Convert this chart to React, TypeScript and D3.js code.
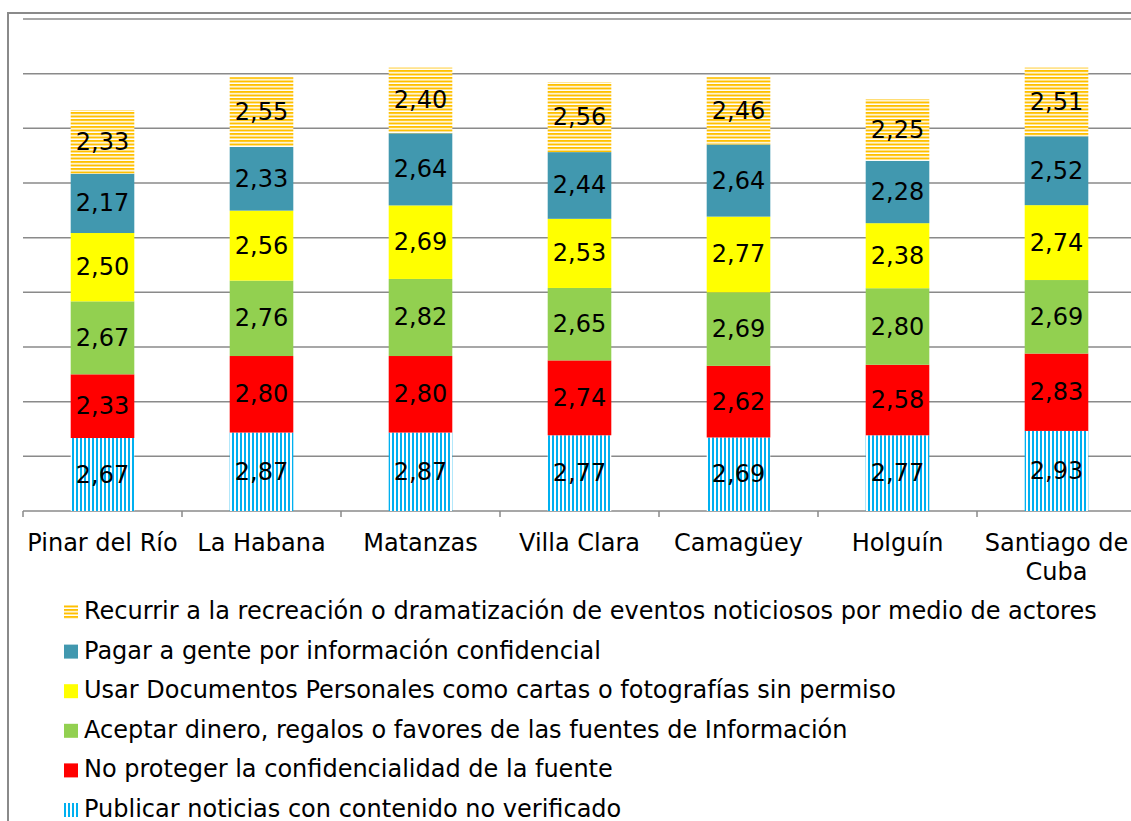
import React from 'react';
import * as d3 from 'd3';

const categories = ['Pinar del Río', 'La Habana', 'Matanzas', 'Villa Clara', 'Camagüey', 'Holguín', 'Santiago de Cuba'];

// bottom to top
const seriesNames = [
  'Publicar noticias con contenido no verificado',
  'No proteger la confidencialidad de la fuente',
  'Aceptar dinero, regalos o favores de las fuentes de Información',
  'Usar Documentos Personales como cartas o fotografías sin permiso',
  'Pagar a gente por información confidencial',
  'Recurrir a la recreación o dramatización de eventos noticiosos por medio de actores',
];

const publicar = [2.67, 2.87, 2.87, 2.77, 2.69, 2.77, 2.93];
const noProteger = [2.33, 2.80, 2.80, 2.74, 2.62, 2.58, 2.83];
const aceptar = [2.67, 2.76, 2.82, 2.65, 2.69, 2.80, 2.69];
const usar = [2.50, 2.56, 2.69, 2.53, 2.77, 2.38, 2.74];
const pagar = [2.17, 2.33, 2.64, 2.44, 2.64, 2.28, 2.52];
const recurrir = [2.33, 2.55, 2.40, 2.56, 2.46, 2.25, 2.51];

const seriesValues = [publicar, noProteger, aceptar, usar, pagar, recurrir];
const fills = ['url(#vstripe)', '#FF0000', '#92D050', '#FFFF00', '#4198AF', 'url(#hstripe)'];
const yTicks = [0, 2, 4, 6, 8, 10, 12, 14, 16, 18];

const FONT = '"DejaVu Sans", Verdana, sans-serif';
const GRID = '#8a8a8a';

export default () => {
  const x = d3.scaleBand<string>().domain(categories).range([23, 1136]).padding(0);
  const y = d3.scaleLinear().domain([0, 18]).range([511, 19]);
  const barW = x.bandwidth() * 0.4;

  const rows = categories.map((c, i) => {
    const r: any = { cat: c };
    seriesValues.forEach((s, k) => (r['s' + k] = s[i]));
    return r;
  });
  const stack = d3.stack().keys(seriesValues.map((_, k) => 's' + k))(rows);

  const fmt = (v: number) => d3.format('.2f')(v).replace('.', ',');

  return (
    <svg width={1131} height={821} style={{ position: 'absolute', left: 0, top: 0 }} fontFamily={FONT}>
      <defs>
        <pattern id="vstripe" patternUnits="userSpaceOnUse" width={4} height={4}>
          <rect width={4} height={4} fill="#fff" />
          <rect width={2} height={4} fill="#00B0F0" />
        </pattern>
        <pattern id="hstripe" patternUnits="userSpaceOnUse" width={4} height={3.5}>
          <rect width={4} height={3.5} fill="#fff" />
          <rect width={4} height={2} fill="#FFC000" />
        </pattern>
      </defs>
      <rect x={8} y={13} width={1200} height={900} fill="none" stroke={GRID} strokeWidth={2} />
      {yTicks.slice(1).map(t => (
        <line key={t} x1={23} x2={1136} y1={y(t)} y2={y(t)} stroke={GRID} strokeWidth={1.5} />
      ))}
      <line x1={23} x2={1136} y1={y(0)} y2={y(0)} stroke={GRID} strokeWidth={1.5} />
      {categories.map(c => (
        <line key={c} x1={x(c)} x2={x(c)} y1={y(0)} y2={y(0) + 6} stroke={GRID} strokeWidth={1.5} />
      ))}
      {stack.map((layer, k) => (
        <g key={k}>
          {layer.map((d, i) => {
            const cx = (x(categories[i]) as number) + x.bandwidth() / 2;
            return (
              <g key={i}>
                <rect x={cx - barW / 2} y={y(d[1])} width={barW} height={y(d[0]) - y(d[1])} fill={fills[k]} />
                <text x={cx} y={(y(d[0]) + y(d[1])) / 2} textAnchor="middle" dominantBaseline="central" fontSize={24} fill="#000">
                  {fmt(d[1] - d[0])}
                </text>
              </g>
            );
          })}
        </g>
      ))}
      {categories.map(c => {
        const cx = (x(c) as number) + x.bandwidth() / 2;
        const parts = c === 'Santiago de Cuba' ? ['Santiago de', 'Cuba'] : [c];
        return (
          <text key={c} x={cx} y={551} textAnchor="middle" fontSize={24} fill="#000">
            {parts.map((p, j) => (
              <tspan key={j} x={cx} dy={j === 0 ? 0 : 29}>{p}</tspan>
            ))}
          </text>
        );
      })}
      {seriesNames.slice().reverse().map((name, j) => {
        const k = seriesNames.length - 1 - j;
        const by = 619 + j * 39.6;
        return (
          <g key={name}>
            <rect x={64} y={by - 14} width={14} height={14} fill={fills[k]} />
            <text x={84} y={by} fontSize={24} fill="#000">{name}</text>
          </g>
        );
      })}
    </svg>
  );
};
